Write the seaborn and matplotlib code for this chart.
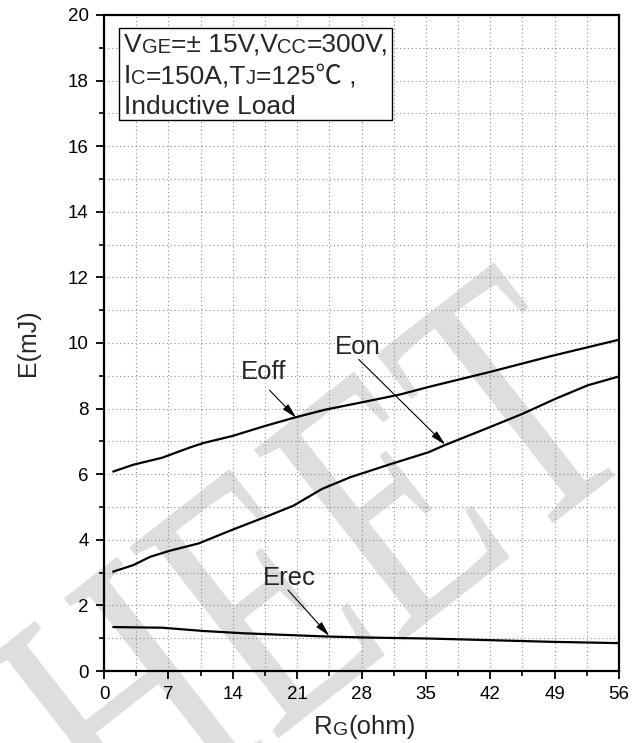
import pandas as pd
import seaborn as sns
import matplotlib
matplotlib.use('Agg')
import matplotlib.pyplot as plt
from matplotlib.patches import Rectangle, PathPatch
from matplotlib.textpath import TextPath
from matplotlib.font_manager import FontProperties
from matplotlib.transforms import Affine2D
from matplotlib.ticker import MultipleLocator

# curve data
rg_off = [1, 3.2, 6.3, 9.4, 10.8, 13.9, 17.5, 20.9, 24.1, 28.2, 32.2, 35.3, 42, 48.6, 56]
e_off = [6.08, 6.29, 6.5, 6.82, 6.95, 7.16, 7.47, 7.74, 7.97, 8.2, 8.43, 8.66, 9.12, 9.6, 10.1]

rg_on = [1, 3.2, 5.0, 7.2, 10.3, 13.9, 17.5, 20.6, 23.7, 26.8, 31.3, 35.3, 37.0, 42, 45.5, 49.1, 52.6, 56]
e_on = [3.03, 3.23, 3.48, 3.67, 3.89, 4.3, 4.69, 5.04, 5.55, 5.91, 6.32, 6.67, 6.88, 7.44, 7.84, 8.3, 8.71, 8.98]

rg_rec = [1, 6.3, 10.8, 15.2, 19.7, 24.4, 28.6, 35.3, 42, 48.6, 56]
e_rec = [1.34, 1.32, 1.22, 1.15, 1.10, 1.05, 1.02, 0.99, 0.94, 0.89, 0.85]

x_ticks = [0, 7, 14, 21, 28, 35, 42, 49, 56]
y_ticks = [0, 2, 4, 6, 8, 10, 12, 14, 16, 18, 20]

df = pd.concat([
    pd.DataFrame({'RG': rg_off, 'E': e_off, 'curve': 'Eoff'}),
    pd.DataFrame({'RG': rg_on, 'E': e_on, 'curve': 'Eon'}),
    pd.DataFrame({'RG': rg_rec, 'E': e_rec, 'curve': 'Erec'}),
])

sns.set_theme(style='ticks')
plt.rcParams['font.family'] = ['Liberation Sans', 'Noto Sans CJK SC', 'DejaVu Sans']

W, H = 640, 743
fig = plt.figure(figsize=(W / 100, H / 100), dpi=100)
ax = fig.add_axes([104 / W, 72 / H, 515 / W, 656 / H])
ax.set_facecolor('none')

# faint watermark behind the plot (narrow serif letters on a diagonal)
tp = TextPath((0, 0), 'HEET', size=370, prop=FontProperties(family='Liberation Serif'))
tr = (Affine2D().scale(0.7, 1).rotate_deg(38).translate(125, -115)
      + Affine2D().scale(1 / W, 1 / H) + fig.transFigure)
fig.add_artist(PathPatch(tp, transform=tr, facecolor='#dedede', edgecolor='none', zorder=-5))

sns.lineplot(data=df, x='RG', y='E', hue='curve', palette=['black'] * 3,
             estimator=None, sort=False, legend=False, lw=1.6, ax=ax)

ax.set_xlim(0, 56)
ax.set_ylim(0, 20)
ax.set_xticks(x_ticks)
ax.set_yticks(y_ticks)
ax.xaxis.set_minor_locator(MultipleLocator(3.5))
ax.yaxis.set_minor_locator(MultipleLocator(1))
ax.grid(which='both', ls=(0, (1, 2.5)), lw=0.8, color='#8c8c8c')
ax.set_axisbelow(True)
for s in ax.spines.values():
    s.set_linewidth(1.6)
    s.set_color('black')
ax.tick_params(which='major', direction='out', length=6, width=1.3, labelsize=13.5, pad=5, colors='black')
ax.tick_params(which='minor', direction='out', length=3.5, width=1.2, colors='black')
ax.set_xlabel('')
ax.set_ylabel('')


def rich(x, y, parts, transform):
    t = ax.text(x, y, parts[0][0], fontsize=parts[0][1], transform=transform, va='baseline', zorder=6)
    for s, fs in parts[1:]:
        t = ax.annotate(s, xy=(1, 0), xycoords=t, fontsize=fs, va='bottom', zorder=6)
    return t


# axis labels
rich(314 / W, 9 / H, [('R', 18.5), ('G', 14), ('(ohm)', 18.5)], fig.transFigure)
fig.text(28 / W, 1 - 343 / H, 'E(mJ)', fontsize=18, rotation=90, ha='center', va='center')

# condition box
ax.add_patch(Rectangle((0.0291, 0.840), 0.530, 0.1397, transform=ax.transAxes,
                       facecolor='white', edgecolor='black', lw=1.0, zorder=4))
rich(0.0388, 0.944, [('V', 19), ('GE', 14.5), ('=± 15V,V', 19), ('CC', 14.5), ('=300V,', 19)], ax.transAxes)
rich(0.0388, 0.896, [('I', 19), ('C', 14.5), ('=150A,T', 19), ('J', 14.5), ('=125℃ ,', 19)], ax.transAxes)
rich(0.0388, 0.849, [('Inductive Load', 19)], ax.transAxes)

# curve labels with arrows
arrow = dict(arrowstyle='-|>,head_length=0.9,head_width=0.22', lw=0.8, color='black',
             shrinkA=0, shrinkB=0, mutation_scale=10)
ax.text(17.4, 9.12, 'Eoff', fontsize=18.5, ha='center', va='center')
ax.annotate('', xy=(20.9, 7.72), xytext=(18.0, 8.56), arrowprops=arrow)
ax.text(27.6, 9.88, 'Eon', fontsize=18.5, ha='center', va='center')
ax.annotate('', xy=(37.1, 6.9), xytext=(27.7, 9.5), arrowprops=arrow)
ax.text(20.2, 2.85, 'Erec', fontsize=18.5, ha='center', va='center')
ax.annotate('', xy=(24.5, 1.07), xytext=(20.0, 2.47), arrowprops=arrow)

fig.savefig('out.png', dpi=100)
